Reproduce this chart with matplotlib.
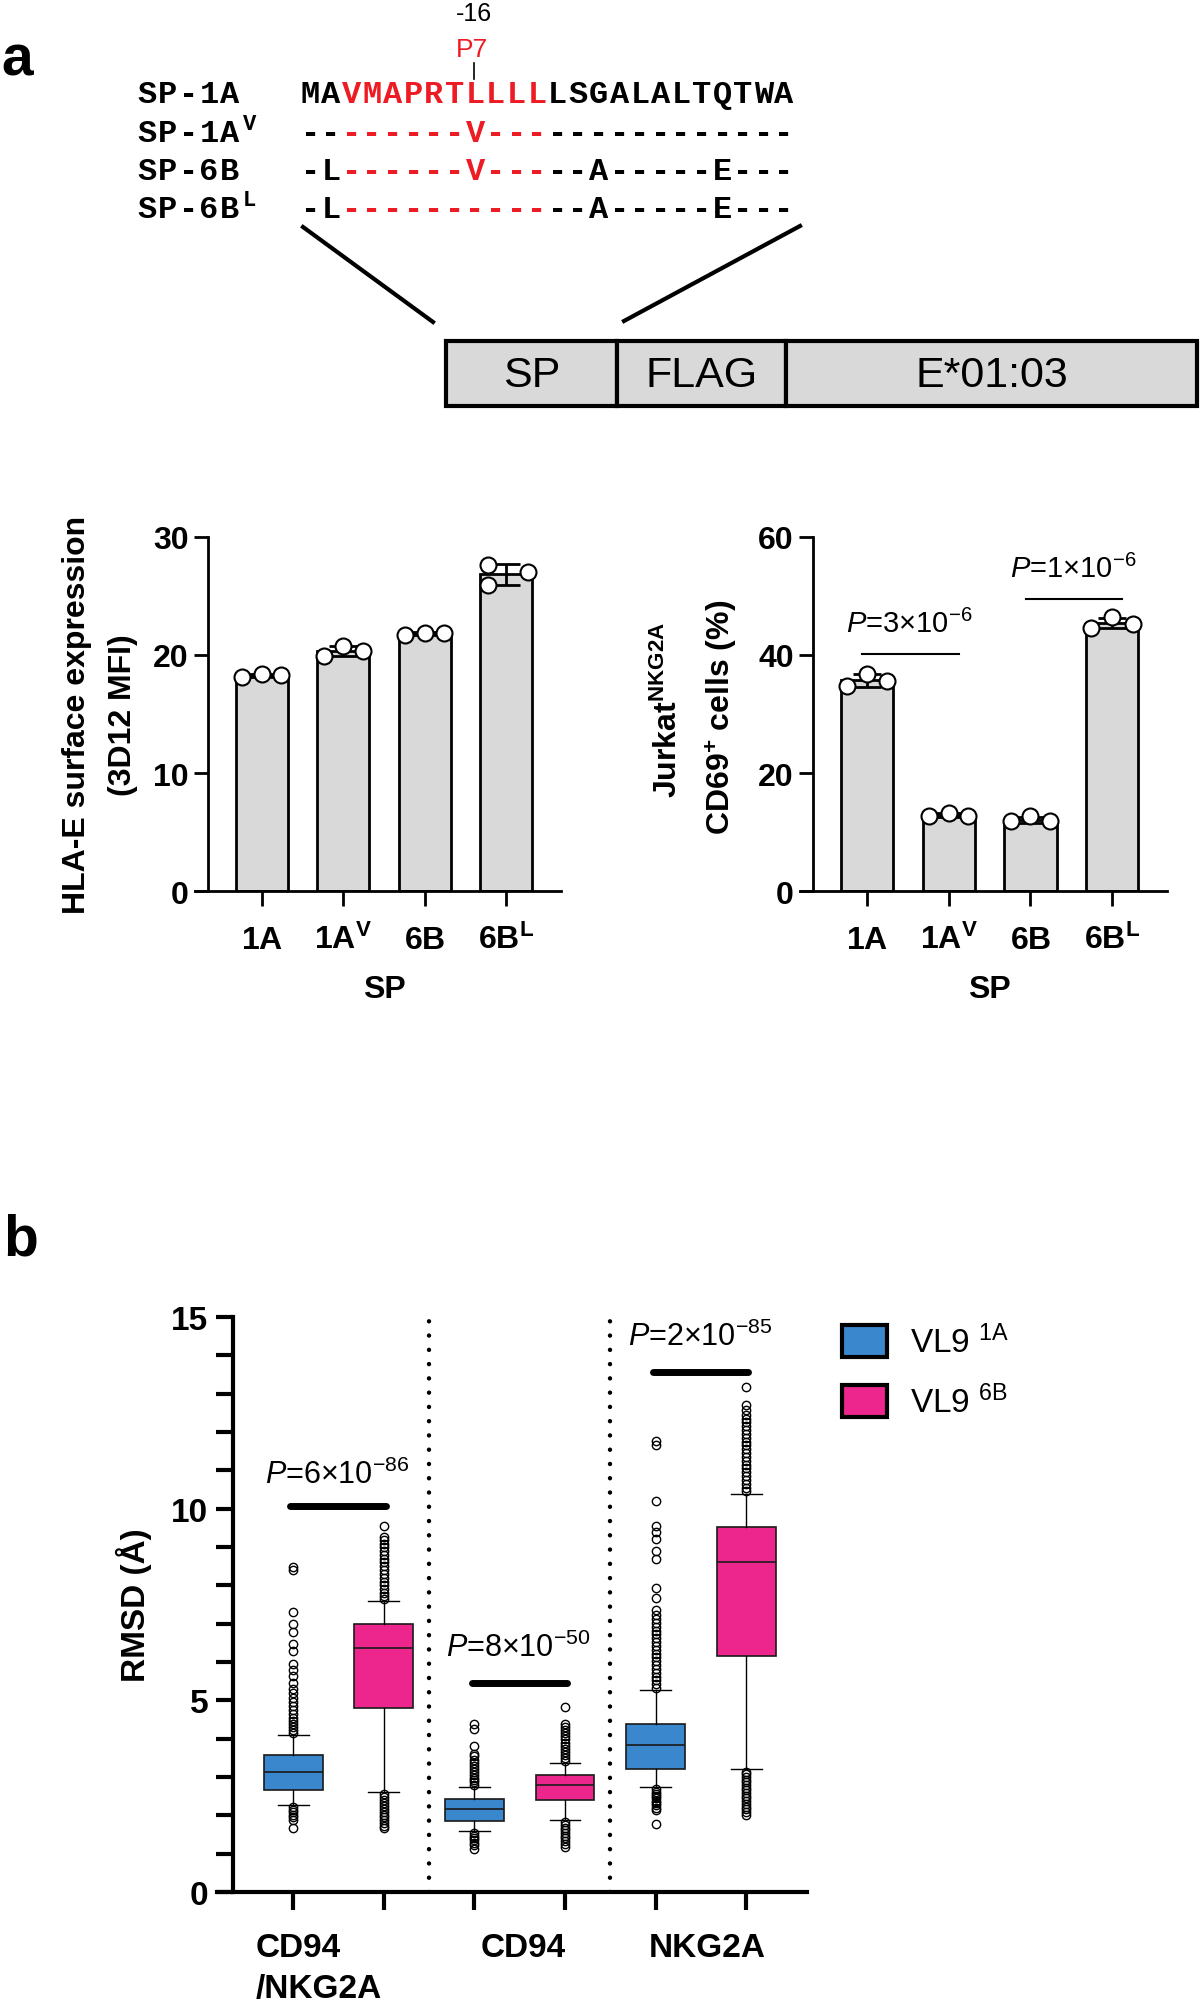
import matplotlib
matplotlib.use('Agg')
import matplotlib.pyplot as plt
import numpy as np
from matplotlib.patches import Rectangle, Patch
from matplotlib.ticker import MultipleLocator

plt.rcParams['font.family'] = ['Liberation Sans', 'DejaVu Sans']
plt.rcParams['mathtext.fontset'] = 'custom'
plt.rcParams['mathtext.rm'] = 'Liberation Sans'
plt.rcParams['mathtext.it'] = 'Liberation Sans:italic'
plt.rcParams['mathtext.bf'] = 'Liberation Sans:bold'
plt.rcParams['mathtext.default'] = 'regular'

# ---- data: panel a (signal peptides)
pep_names = ['SP-1A', 'SP-1A', 'SP-6B', 'SP-6B']
pep_sups = ['', 'V', '', 'L']
pep_seqs = ['MAVMAPRTLLLLLSGALALTQTWA',
            '--------V---------------',
            '-L------V-----A-----E---',
            '-L------------A-----E---']
red_from, red_to = 2, 12
construct = ['SP', 'FLAG', 'E*01:03']

# ---- data: bar charts (3 replicates per signal peptide)
sp_labels = [r'$\mathbf{1A}$', r'$\mathbf{1A^{V}}$', r'$\mathbf{6B}$', r'$\mathbf{6B^{L}}$']
hla_mfi = [[18.1, 18.4, 18.3], [19.9, 20.8, 20.3], [21.7, 21.9, 21.9], [27.6, 25.9, 27.0]]
cd69_pct = [[34.7, 36.8, 35.6], [12.7, 13.3, 12.7], [11.8, 12.7, 11.8], [44.6, 46.4, 45.3]]
cd69_pairs = [(0, 1), (2, 3)]
cd69_ptext = [r'$\mathit{P}$=3×10$^{-6}$', r'$\mathit{P}$=1×10$^{-6}$']

# ---- data: RMSD box plots (order: 1A, 6B for each receptor)
rmsd_groups = ['CD94\n/NKG2A', 'CD94', 'NKG2A']
vl9_names = ['VL9 $^{1A}$', 'VL9 $^{6B}$']
rmsd_med = [3.13, 6.37, 2.17, 2.78, 3.83, 8.60]
rmsd_q1 = [2.65, 4.79, 1.85, 2.39, 3.20, 6.15]
rmsd_q3 = [3.58, 6.99, 2.42, 3.06, 4.37, 9.53]
rmsd_wlo = [2.28, 2.61, 1.59, 1.89, 2.74, 3.20]
rmsd_whi = [4.10, 7.59, 2.74, 3.36, 5.26, 10.38]
rmsd_fliers = [
    [4.15, 4.22, 4.3, 4.38, 4.45, 4.55, 4.65, 4.75, 4.85, 4.95, 5.07, 5.2, 5.3, 5.45,
     5.64, 5.8, 5.96, 6.28, 6.47, 6.79, 6.98, 7.3, 8.41, 8.48,
     2.22, 2.15, 2.08, 2.0, 1.95, 1.88, 1.66],
    [7.65, 7.72, 7.8, 7.9, 8.0, 8.1, 8.2, 8.3, 8.4, 8.5, 8.6, 8.7, 8.8, 8.9, 9.0, 9.08,
     9.17, 9.25, 9.55,
     2.55, 2.48, 2.4, 2.32, 2.25, 2.17, 2.1, 2.02, 1.95, 1.88, 1.8, 1.72, 1.66],
    [2.8, 2.86, 2.92, 2.98, 3.05, 3.12, 3.2, 3.28, 3.36, 3.45, 3.55, 3.61, 3.8, 4.24, 4.37,
     1.53, 1.47, 1.41, 1.35, 1.29, 1.23, 1.12],
    [3.42, 3.5, 3.58, 3.66, 3.74, 3.82, 3.9, 3.98, 4.06, 4.14, 4.22, 4.3, 4.37, 4.82,
     1.82, 1.75, 1.68, 1.61, 1.54, 1.47, 1.4, 1.33, 1.26, 1.18],
    [5.32, 5.42, 5.52, 5.62, 5.72, 5.82, 5.92, 6.02, 6.12, 6.22, 6.32, 6.42, 6.52, 6.62,
     6.72, 6.82, 6.92, 7.02, 7.12, 7.22, 7.36, 7.68, 7.94, 8.70, 8.89, 9.21, 9.40, 9.55,
     10.19, 11.66, 11.76,
     2.68, 2.62, 2.56, 2.5, 2.44, 2.38, 2.32, 2.26, 2.2, 2.14, 1.78],
    [10.45, 10.55, 10.65, 10.75, 10.85, 10.95, 11.05, 11.15, 11.25, 11.35, 11.45, 11.55,
     11.65, 11.75, 11.85, 11.95, 12.05, 12.15, 12.25, 12.35, 12.45, 12.58, 12.71, 13.18,
     3.14, 3.07, 3.0, 2.93, 2.86, 2.79, 2.72, 2.65, 2.58, 2.51, 2.44, 2.37, 2.3, 2.23,
     2.16, 2.09, 2.01],
]
rmsd_ptext = [r'$\mathit{P}$=6×10$^{-86}$', r'$\mathit{P}$=8×10$^{-50}$', r'$\mathit{P}$=2×10$^{-85}$']

RED = '#ED1C24'
GREY = '#d9d9d9'
BLUE = '#3B87CD'
PINK = '#EC268C'

W, H = 1200, 2006
fig = plt.figure(figsize=(W / 100, H / 100), dpi=100)


def frac(x0, y0, x1, y1):
    return [x0 / W, 1 - y1 / H, (x1 - x0) / W, (y1 - y0) / H]


# overlay in pixel coordinates for the schematic and free text
ax0 = fig.add_axes([0, 0, 1, 1])
ax0.set_xlim(0, W)
ax0.set_ylim(H, 0)
ax0.axis('off')

ax0.text(1, 75, 'a', fontsize=41, weight='bold', va='baseline')
ax0.text(3, 1255, 'b', fontsize=41, weight='bold', va='baseline')

cw = 20.6
x_seq = 300
base_y = [103, 142, 180, 218]
mono = dict(family='Liberation Mono', weight='bold')
for name, sup, seq, y in zip(pep_names, pep_sups, pep_seqs, base_y):
    for j, ch in enumerate(name):
        ax0.text(137 + (j + 0.5) * cw, y, ch, fontsize=23, ha='center', va='baseline', **mono)
    if sup:
        ax0.text(243, y - 12, sup, fontsize=16, va='baseline', **mono)
    for j, ch in enumerate(seq):
        col = RED if red_from <= j < red_to else 'black'
        ax0.text(x_seq + (j + 0.5) * cw, y, ch, fontsize=23, color=col, ha='center',
                 va='baseline', **mono)

x_p7 = 474
ax0.text(x_p7, 14, '-16', fontsize=18, ha='center', va='center')
ax0.text(x_p7 - 2, 50, 'P7', fontsize=19, color=RED, ha='center', va='center')
ax0.plot([x_p7, x_p7], [64, 80], color='black', lw=1.2)

ax0.plot([303, 433], [228, 323], color='black', lw=3)
ax0.plot([800, 624], [227, 322], color='black', lw=3)
edges = [446, 617, 786, 1197]
for k, part in enumerate(construct):
    ax0.add_patch(Rectangle((edges[k], 342), edges[k + 1] - edges[k], 65,
                            facecolor=GREY, edgecolor='black', lw=3))
    ax0.text((edges[k] + edges[k + 1]) / 2, 376, part, fontsize=31, ha='center', va='center')

# axis labels of bar charts
ax0.text(77, 715, 'HLA-E surface expression', fontsize=23, weight='bold', rotation=90,
         ha='center', va='center')
ax0.text(123, 715, '(3D12 MFI)', fontsize=23, weight='bold', rotation=90, ha='center', va='center')
ax0.text(668, 710, r'$\mathbf{Jurkat^{NKG2A}}$', fontsize=23, rotation=90, ha='center', va='center')
ax0.text(722, 717, r'$\mathbf{CD69^{+}\ cells\ (\%)}$', fontsize=23, rotation=90,
         ha='center', va='center')

jitter_hla = [[-0.24, 0, 0.24], [-0.24, 0, 0.24], [-0.24, 0, 0.24], [-0.22, -0.22, 0.27]]
jitter_cd69 = [[-0.24, 0, 0.24], [-0.24, 0, 0.24], [-0.24, 0, 0.24], [-0.26, 0, 0.26]]


def bar_panel(rect, pts, jit, ymax, ystep):
    ax = fig.add_axes(frac(*rect))
    ax.patch.set_alpha(0)
    pos = np.arange(len(pts))
    means = [np.mean(p) for p in pts]
    sds = [np.std(p, ddof=1) for p in pts]
    ax.bar(pos, means, width=0.64, color=GREY, edgecolor='black', linewidth=2, zorder=1)
    ax.errorbar(pos, means, yerr=sds, fmt='none', ecolor='black', elinewidth=2,
                capsize=10, capthick=2, zorder=2)
    for i, p in enumerate(pts):
        ax.plot(pos[i] + np.array(jit[i]), p, 'o', ms=11.5, mfc='white', mec='black',
                mew=1.5, zorder=3, clip_on=False)
    ax.set_xlim(-0.82, 3.67)
    ax.set_ylim(0, ymax)
    ax.set_yticks(np.arange(0, ymax + 1, ystep))
    ax.spines['left'].set_position(('data', -0.66))
    for s in ['top', 'right']:
        ax.spines[s].set_visible(False)
    for s in ['left', 'bottom']:
        ax.spines[s].set_linewidth(2)
    ax.set_xticks(pos, [''] * len(pos))
    ax.tick_params(axis='x', length=11, width=2)
    ax.tick_params(axis='y', length=10, width=2, pad=4, labelsize=23)
    for t in ax.get_yticklabels():
        t.set_fontweight('bold')
    for i, lab in enumerate(sp_labels):
        ax.text(pos[i], -57 / 354, lab, fontsize=23, ha='center', va='baseline',
                transform=ax.get_xaxis_transform())
    ax.text(1.5, -98 / 354, 'SP', fontsize=23, weight='bold', ha='center', va='center',
            transform=ax.get_xaxis_transform())
    return ax


bar_panel((195, 538, 561, 892), hla_mfi, jitter_hla, 30, 10)
axr = bar_panel((800, 538, 1167, 892), cd69_pct, jitter_cd69, 60, 20)
for (a, b), txt, ly, ty in zip(cd69_pairs, cd69_ptext, [40.2, 49.5], [45.3, 54.6]):
    axr.plot([a - 0.06, b + 0.12], [ly, ly], color='black', lw=1.5)
    axr.text((a + b) / 2 + 0.02, ty, txt, fontsize=21, ha='center', va='center')

# ---- panel b: RMSD boxes
axb = fig.add_axes(frac(217, 1318, 807, 1893))
axb.patch.set_alpha(0)
positions = np.arange(6)
stats = []
for k in range(6):
    stats.append(dict(med=rmsd_med[k], q1=rmsd_q1[k], q3=rmsd_q3[k], whislo=rmsd_wlo[k],
                      whishi=rmsd_whi[k], fliers=rmsd_fliers[k]))
bp = axb.bxp(stats, positions=positions, widths=0.65, capwidths=0.34, patch_artist=True,
             manage_ticks=False,
             boxprops=dict(linewidth=1.2, edgecolor='#1a1a1a'),
             medianprops=dict(color='#1a1a1a', linewidth=1.2),
             whiskerprops=dict(color='black', linewidth=1),
             capprops=dict(color='black', linewidth=1),
             flierprops=dict(marker='o', markersize=6, markerfacecolor='none',
                             markeredgecolor='black', markeredgewidth=1))
for k, box in enumerate(bp['boxes']):
    box.set_facecolor(BLUE if k % 2 == 0 else PINK)

for xs in [1.5, 3.5]:
    axb.plot([xs, xs], [0, 15], color='black', lw=3.2, linestyle=(0, (0.01, 3.2)),
             dash_capstyle='round')

for g, (txt, ly, ty) in enumerate(zip(rmsd_ptext, [10.08, 5.45, 13.57], [10.9, 6.38, 14.5])):
    a, b = 2 * g, 2 * g + 1
    axb.plot([a - 0.03, b + 0.02], [ly, ly], color='black', lw=5, solid_capstyle='round')
    axb.text((a + b) / 2 - 0.01, ty, txt, fontsize=22, ha='center', va='center')

axb.set_xlim(-0.84, 5.67)
axb.set_ylim(0, 15)
axb.set_yticks([0, 5, 10, 15])
axb.yaxis.set_minor_locator(MultipleLocator(1))
axb.spines['left'].set_position(('data', -0.66))
for s in ['top', 'right']:
    axb.spines[s].set_visible(False)
for s in ['left', 'bottom']:
    axb.spines[s].set_linewidth(3)
axb.set_xticks(positions, [''] * 6)
axb.tick_params(axis='x', length=13, width=3)
axb.tick_params(axis='y', which='both', length=12, width=3, pad=6, labelsize=24)
for t in axb.get_yticklabels():
    t.set_fontweight('bold')
axb.set_ylabel('RMSD (Å)', fontsize=24, weight='bold', labelpad=14)

xt = axb.get_xaxis_transform()
axb.text(-0.41, -0.0957, rmsd_groups[0].split('\n')[0], fontsize=24, weight='bold',
         ha='left', va='center', transform=xt)
axb.text(-0.41, -0.167, rmsd_groups[0].split('\n')[1], fontsize=24, weight='bold',
         ha='left', va='center', transform=xt)
axb.text(2.54, -0.0957, rmsd_groups[1], fontsize=24, weight='bold', ha='center', va='center',
         transform=xt)
axb.text(4.57, -0.0957, rmsd_groups[2], fontsize=24, weight='bold', ha='center', va='center',
         transform=xt)

handles = [Patch(facecolor=c, edgecolor='black', linewidth=3) for c in [BLUE, PINK]]
axb.legend(handles, vl9_names, loc='upper left', bbox_to_anchor=(842 / W, 1 - 1326 / H),
           bbox_transform=fig.transFigure, frameon=False, fontsize=24, handlelength=1.36,
           handleheight=1.1, handletextpad=0.67, labelspacing=0.75, borderpad=0,
           borderaxespad=0)

fig.savefig('out.png', dpi=100)
